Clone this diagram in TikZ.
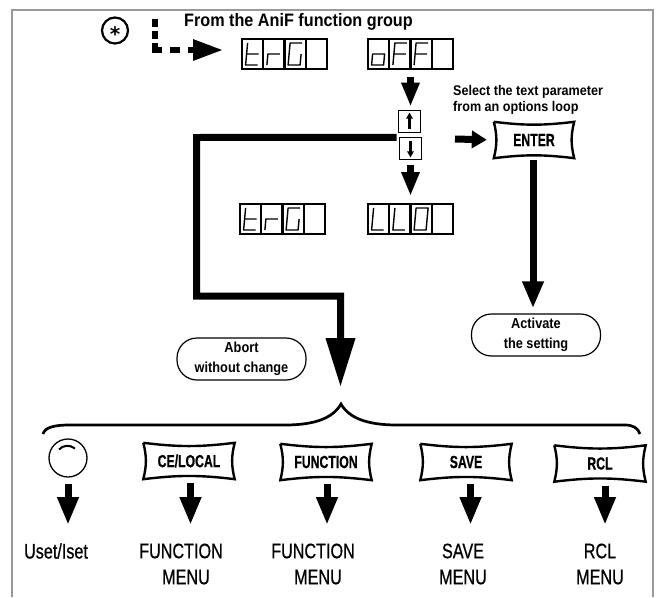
\documentclass[tikz,border=0pt]{standalone}
\usepackage{fontspec}
\setmainfont{Liberation Sans}
\newfontfamily\lblfont[FakeStretch=.77,FakeBold=.6]{Liberation Sans}
\newfontfamily\keyfont[FakeStretch=.7,FakeBold=.6]{Liberation Sans Bold}
\newfontfamily\noteafont[FakeStretch=.9]{Liberation Sans Bold}
\newfontfamily\notebfont[FakeStretch=.88]{Liberation Sans Bold}
\newfontfamily\starfont{DejaVu Sans Bold}
\usetikzlibrary{arrows.meta}
\definecolor{framegray}{HTML}{999999}
\tikzset{
  cellbox/.style={draw,line width=2.2pt,minimum width=21.25pt,minimum height=30pt,inner sep=0pt},
  segline/.style={line width=1.4pt,line join=round},
  keybox/.style={minimum width=91pt,minimum height=36pt,inner sep=0pt,font=\keyfont\fontsize{17.5}{18}\selectfont},
  keyline/.style={line width=2.4pt,line join=miter},
  stepkey/.style={draw,line width=1.8pt,minimum size=22pt,inner sep=0pt},
  notebox/.style={draw,line width=1.2pt,rounded corners=20pt,minimum width=129pt,minimum height=42pt,
    inner sep=0pt,align=center,font=\notebfont\fontsize{14.5}{20}\selectfont},
  lbl/.style={align=center,inner sep=0pt,font=\lblfont\fontsize{21}{26}\selectfont},
  smallarrow/.style={line width=7pt,-{Triangle[width=17pt,length=24pt]}},
  menuarrow/.style={line width=7pt,shorten <=4pt,-{Triangle[width=20pt,length=28pt]}},
  bigarrow/.style={line width=7pt,-{Triangle[width=28pt,length=49pt]}}
}
% segments of the display, y runs downwards
\def\gt{(-5,-11) -- (-7,11) -- (5,11) (-6,0) -- (6,0)}
\def\gr{(-7,11) -- (-6,0) -- (6,0)}
\def\gG{(7,-11) -- (-5,-11) -- (-7,11) -- (5,11) -- (6,0)}
\def\go{(-6,0) -- (6,0) -- (5,11) -- (-7,11) -- cycle}
\def\gF{(7,-11) -- (-5,-11) -- (-7,11) (-6,0) -- (6,0)}
\def\gL{(-5,-11) -- (-7,11) -- (5,11)}
\def\gO{(-5,-11) -- (7,-11) -- (5,11) -- (-7,11) -- cycle}
\def\gn{}
\begin{document}
\begin{tikzpicture}[x=1pt,y=-1pt]
  \useasboundingbox (0,0) rectangle (661,597);
  \draw[framegray,line width=2pt] (12,597) -- (12,10) -- (653,10) -- (653,597);

  % displays
  \foreach \cname/\cx/\cy/\gl in {a1/252.6/54/\gt,a2/273.9/54/\gr,a3/295.1/54/\gG,a4/316.4/54/\gn,
      b1/378.6/54/\go,b2/399.9/54/\gF,b3/421.1/54/\gF,b4/442.4/54/\gn,
      c1/250.6/219/\gt,c2/271.9/219/\gr,c3/293.1/219/\gG,c4/314.4/219/\gn,
      d1/378.6/219/\gL,d2/399.9/219/\gL,d3/421.1/219/\gO,d4/442.4/219/\gn}{
    \node[cellbox] (\cname) at (\cx,\cy) {};
    \begin{scope}[shift={(\cx,\cy)}]
      \draw[segline] \gl;
    \end{scope}
  }

  \node[draw,circle,line width=2.2pt,minimum size=26pt,inner sep=0pt] (star) at (115,30.5) {\smash{\raisebox{-11.5pt}{\starfont\fontsize{20}{20}\selectfont *}}};
  \node[anchor=west,inner sep=0pt,font=\noteafont\fontsize{18}{20}\selectfont] (fromgrp) at (184,21.5) {From the AniF function group};
  \node[anchor=west,inner sep=0pt,align=left,font=\noteafont\fontsize{14}{15.5}\selectfont] (selnote) at (453,100) {Select the text parameter\\from an options loop};

  \node[stepkey] (upkey) at (409.5,121.5) {};
  \node[stepkey] (downkey) at (410.5,148.5) {};

  \node[keybox,minimum width=80pt] (enter) at (534,140) {ENTER};
  \node[keybox] (celocal) at (189,461) {CE/LOCAL};
  \node[keybox] (func) at (326,462) {FUNCTION};
  \node[keybox] (save) at (466,462) {SAVE};
  \node[keybox] (rcl) at (600,463.5) {RCL};
  \node[draw,circle,line width=1.3pt,minimum size=38pt,inner sep=0pt] (dial) at (68,458) {};

  \node[notebox] (abort) at (241.5,359) {Abort\\without change};
  \node[notebox] (activate) at (536,335) {Activate\\the setting};

  \node[lbl] (uset) at (56,551) {Uset/Iset};
  \node[lbl] (fmenu) at (181,564) {FUNCTION\\\hspace*{10pt}MENU};
  \node[lbl] (fmenub) at (313,564) {FUNCTION\\\hspace*{10pt}MENU};
  \node[lbl] (smenu) at (463,564) {SAVE\\MENU};
  \node[lbl] (rmenu) at (600,564) {RCL\\MENU};

  \coordinate (dashtop) at (155,19);
  \coordinate (dashend) at (155,52);
  \coordinate (dashleft) at (152,50);
  \coordinate (dashtip) at (223,50);
  \coordinate (enterin) at (455,139);
  \coordinate (bendA) at (196.5,137.5);
  \coordinate (bendB) at (196.5,296);
  \coordinate (bendC) at (340.5,296);
  \coordinate (bigtip) at (340.5,387);
  \coordinate (lotip) at (410.5,196);
  \coordinate (t1) at (68,525);
  \coordinate (t2) at (190.5,525);
  \coordinate (t3) at (327,525);
  \coordinate (t4) at (470.5,525);
  \coordinate (t5) at (605,525);

  % keys with hollow sides
  \foreach \k in {enter,celocal,func,save,rcl}
    \draw[keyline] (\k.north west) to[bend right=7] (\k.north east) to[bend right=14] (\k.south east)
      to[bend right=7] (\k.south west) to[bend right=14] (\k.north west);

  \draw[line width=2pt] (59,449.5) .. controls (63,445) and (70,444.5) .. (75,448.5);
  \draw[line width=2.5pt,-{Triangle[width=6.5pt,length=6pt]},shorten <=4pt,shorten >=3pt] (upkey.south) -- (upkey.north);
  \draw[line width=2.5pt,-{Triangle[width=6.5pt,length=6pt]},shorten <=4pt,shorten >=3pt] (downkey.north) -- (downkey.south);

  \draw[line width=6pt,dash pattern=on 8pt off 4pt] (dashtop) -- (dashend);
  \draw[line width=6pt,dash pattern=on 10pt off 8pt,-{Triangle[width=20pt,length=30pt]}] (dashleft) -- (dashtip);

  \draw[smallarrow,shorten <=7pt,shorten >=3pt] (b2.south -| upkey) ++(1,0) -- (upkey.north -| lotip);
  \draw[smallarrow,shorten <=5pt] (downkey.south) -- (lotip);
  \draw[line width=7pt,-{Triangle[width=17pt,length=15pt]},shorten >=7pt] (enterin) -- (enter.west);
  \draw[line width=7pt,shorten <=2pt,shorten >=5pt,-{Triangle[width=20pt,length=27pt]}] (enter.south -| 533,0) -- (activate.north -| 533,0);
  \draw[bigarrow,line join=miter] (upkey.south west) ++(-1,4) -- (bendA) -- (bendB) -- (bendC) -- (bigtip);

  \draw[menuarrow,shorten <=6pt] (dial.south) -- (t1);
  \foreach \from/\to in {celocal/t2,func/t3,save/t4,rcl/t5}
    \draw[menuarrow] (\from.south -| \to) -- (\to);

  % brace over the exits
  \draw[line width=2.7pt] (43,434) .. controls (45,427) and (55,425) .. (70,425) -- (285,425)
    .. controls (315,425) and (333,418) .. (341,404) .. controls (349,418) and (367,425) .. (397,425)
    -- (625,425) .. controls (633,425) and (638,428) .. (640,434);
\end{tikzpicture}
\end{document}
